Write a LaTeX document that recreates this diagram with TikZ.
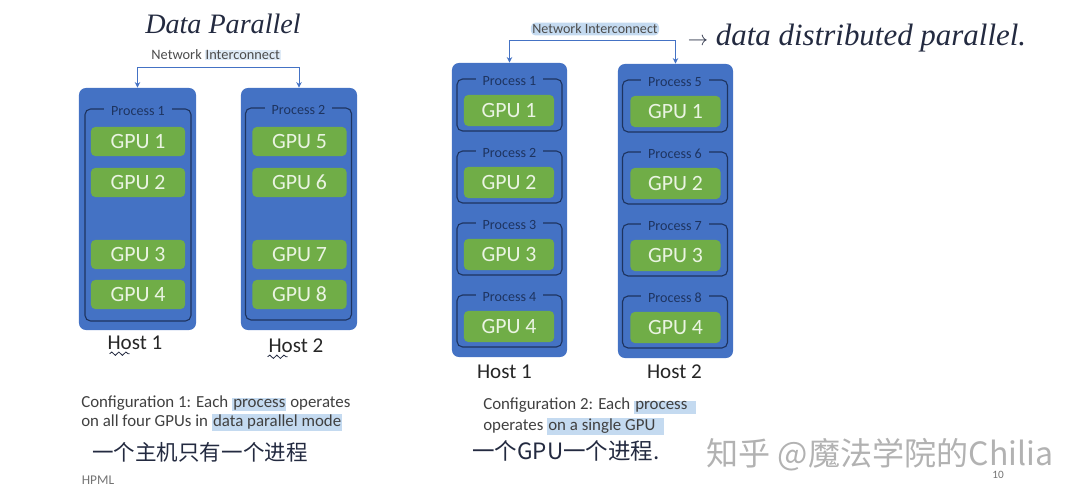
\documentclass[tikz,border=0pt]{standalone}
\usepackage{fontspec}
\setmainfont{Carlito}
\newfontfamily\handfont{Liberation Serif}
\newfontfamily\cjkfont{Noto Sans CJK SC}
\usepackage{xcolor}
\definecolor{hostblue}{RGB}{68,114,196}
\definecolor{gpugreen}{RGB}{112,173,71}
\definecolor{gputext}{RGB}{234,244,226}
\definecolor{procnavy}{RGB}{30,52,96}
\definecolor{hlblue}{RGB}{196,218,240}
\definecolor{inkdark}{RGB}{35,42,64}
\definecolor{markgray}{RGB}{178,178,178}
\usetikzlibrary{arrows.meta, positioning, calc, decorations.pathmorphing}

\newcommand{\hlmark}[1]{{\setlength{\fboxsep}{0.8pt}\colorbox{hlblue}{#1}}}

\begin{document}
\begin{tikzpicture}[x=0.025cm, y=-0.025cm,
  host/.style={rectangle, fill=hostblue, rounded corners=5pt, inner sep=0pt},
  proc/.style={rectangle, draw=procnavy, line width=0.8pt, rounded corners=4pt, inner sep=0pt},
  plabel/.style={fill=hostblue, text=procnavy, inner xsep=5pt, inner ysep=1pt,
                 yshift=-2pt, font=\fontsize{10}{10}\selectfont},
  gpu/.style={rectangle, fill=gpugreen, rounded corners=3pt, inner sep=0pt,
              text=gputext, font=\fontsize{15.5}{15.5}\selectfont},
  hostlbl/.style={text=black!85, font=\fontsize{15}{15}\selectfont},
  net/.style={draw=hostblue, line width=0.7pt,
              {Stealth[length=4pt,width=4pt]}-{Stealth[length=4pt,width=4pt]}},
  netlbl/.style={text=black!70, inner sep=1pt},
  cfg/.style={text=black!75, font=\fontsize{12}{12}\selectfont, inner sep=0pt},
  hand/.style={text=inkdark, font=\handfont\itshape},
  handcjk/.style={text=inkdark, font=\cjkfont},
  squig/.style={draw=inkdark, line width=0.6pt, decorate,
                decoration={snake, amplitude=1.2pt, segment length=5pt}}
]

% Canvas
\useasboundingbox (0,0) rectangle (1080,504);

% Configuration 1: one process per host
\node[hand, font=\handfont\itshape\fontsize{20}{20}\selectfont] (ltitle) at (223,24) {Data Parallel};
\node[netlbl, font=\fontsize{10.2}{10.2}\selectfont] (lnet) at (216,55)
  {Network {\setlength{\fboxsep}{0.5pt}\colorbox{hlblue!55}{Interconnect}}};

\node[host, minimum width=2.925cm, minimum height=6.05cm] (lh1) at (137.5,209) {};
\node[host, minimum width=2.9cm, minimum height=6.05cm] (lh2) at (299,209) {};
\node[proc, minimum width=2.65cm, minimum height=5.3cm] (lp1) at (138,215) {};
\node[proc, minimum width=2.65cm, minimum height=5.3cm] (lp2) at (298.5,214) {};
\node[plabel] (lpl1) at (lp1.north) {Process 1};
\node[plabel] (lpl2) at (lp2.north) {Process 2};

\node[gpu, minimum width=2.35cm, minimum height=0.725cm] (lg1) at (138,141.5) {GPU 1};
\node[gpu, minimum width=2.35cm, minimum height=0.725cm] (lg2) at (138,182.5) {GPU 2};
\node[gpu, minimum width=2.35cm, minimum height=0.725cm] (lg3) at (138,254.5) {GPU 3};
\node[gpu, minimum width=2.35cm, minimum height=0.725cm] (lg4) at (138,294.5) {GPU 4};
\node[gpu, minimum width=2.35cm, minimum height=0.725cm] (lg5) at (299.5,141.5) {GPU 5};
\node[gpu, minimum width=2.35cm, minimum height=0.725cm] (lg6) at (299.5,182.5) {GPU 6};
\node[gpu, minimum width=2.35cm, minimum height=0.725cm] (lg7) at (299.5,254.5) {GPU 7};
\node[gpu, minimum width=2.35cm, minimum height=0.725cm] (lg8) at (299.5,294.5) {GPU 8};

\node[hostlbl] (lhl1) at (135,343) {Host 1};
\node[hostlbl] (lhl2) at (296,346) {Host 2};
\draw[squig] ($(lhl1.base west)+(7,4)$) -- ++(20,0);
\draw[squig] ($(lhl2.base west)+(4,4)$) -- ++(20,0);

\draw[net] (lh1.north) -- ++(0,-20) -| (lh2.north);

% Configuration 2: one process per GPU
\node[netlbl, fill=hlblue, rounded corners=3pt, font=\fontsize{10}{10}\selectfont] (rnet) at (595,29)
  {Network Interconnect};
\node[hand, anchor=west, font=\handfont\itshape\fontsize{22}{22}\selectfont] (rtitle) at (683,38)
  {{\fontsize{15}{15}\selectfont$\rightarrow$} data distributed parallel.};

\node[host, minimum width=2.875cm, minimum height=7.35cm] (rh1) at (509.5,210) {};
\node[host, minimum width=2.875cm, minimum height=7.35cm] (rh2) at (675.5,211) {};

\node[proc, minimum width=2.625cm, minimum height=1.3cm] (rp1) at (509.5,105) {};
\node[proc, minimum width=2.625cm, minimum height=1.3cm] (rp2) at (509.5,177) {};
\node[proc, minimum width=2.625cm, minimum height=1.3cm] (rp3) at (509.5,249) {};
\node[proc, minimum width=2.625cm, minimum height=1.3cm] (rp4) at (509.5,321) {};
\node[proc, minimum width=2.625cm, minimum height=1.3cm] (rp5) at (675,106) {};
\node[proc, minimum width=2.625cm, minimum height=1.3cm] (rp6) at (675,178) {};
\node[proc, minimum width=2.625cm, minimum height=1.3cm] (rp7) at (675,250) {};
\node[proc, minimum width=2.625cm, minimum height=1.3cm] (rp8) at (675,322) {};
\node[plabel] (rpl1) at (rp1.north) {Process 1};
\node[plabel] (rpl2) at (rp2.north) {Process 2};
\node[plabel] (rpl3) at (rp3.north) {Process 3};
\node[plabel] (rpl4) at (rp4.north) {Process 4};
\node[plabel] (rpl5) at (rp5.north) {Process 5};
\node[plabel] (rpl6) at (rp6.north) {Process 6};
\node[plabel] (rpl7) at (rp7.north) {Process 7};
\node[plabel] (rpl8) at (rp8.north) {Process 8};

\node[gpu, minimum width=2.25cm, minimum height=0.775cm] (rg1) at (509,110.5) {GPU 1};
\node[gpu, minimum width=2.25cm, minimum height=0.775cm] (rg2) at (509,182.5) {GPU 2};
\node[gpu, minimum width=2.25cm, minimum height=0.775cm] (rg3) at (509,254.5) {GPU 3};
\node[gpu, minimum width=2.25cm, minimum height=0.775cm] (rg4) at (509,326.5) {GPU 4};
\node[gpu, minimum width=2.25cm, minimum height=0.775cm] (rg5) at (675.5,111.5) {GPU 1};
\node[gpu, minimum width=2.25cm, minimum height=0.775cm] (rg6) at (675.5,183.5) {GPU 2};
\node[gpu, minimum width=2.25cm, minimum height=0.775cm] (rg7) at (675.5,255.5) {GPU 3};
\node[gpu, minimum width=2.25cm, minimum height=0.775cm] (rg8) at (675.5,327.5) {GPU 4};

\node[hostlbl] (rhl1) at (504.5,372) {Host 1};
\node[hostlbl] (rhl2) at (674.5,372) {Host 2};

\draw[net] (rh1.north) -- ++(0,-22) -| (rh2.north);

% Captions and notes
\node[cfg, anchor=base west] (c1a) at (81,407) {Configuration 1: Each \hlmark{process} operates};
\node[cfg, anchor=base west] (c1b) at (81,427) {on all four GPUs in \hlmark{data parallel mode}};
\node[handcjk, font=\cjkfont\fontsize{15.3}{15.3}\selectfont] (n1) at (200,452) {一个主机只有一个进程};

\node[cfg, anchor=base west] (c2a) at (483,410) {Configuration 2: Each \hlmark{process\hspace{5pt}}};
\node[cfg, anchor=base west] (c2b) at (483,431) {operates \hlmark{on a single GPU\hspace{5pt}}};
\node[handcjk, font=\cjkfont\fontsize{16}{16}\selectfont] (n2) at (566,451) {一个GPU一个进程.};

\node[text=black!55, font=\fontsize{9.5}{9.5}\selectfont] (foot) at (98,480) {HPML};
\node[text=black!55, font=\fontsize{8}{8}\selectfont] (page) at (998,475) {10};
\node[text=markgray, font=\cjkfont\fontsize{22.8}{22.8}\selectfont] (mark) at (880,455) {知乎 @魔法学院的Chilia};

\end{tikzpicture}
\end{document}
